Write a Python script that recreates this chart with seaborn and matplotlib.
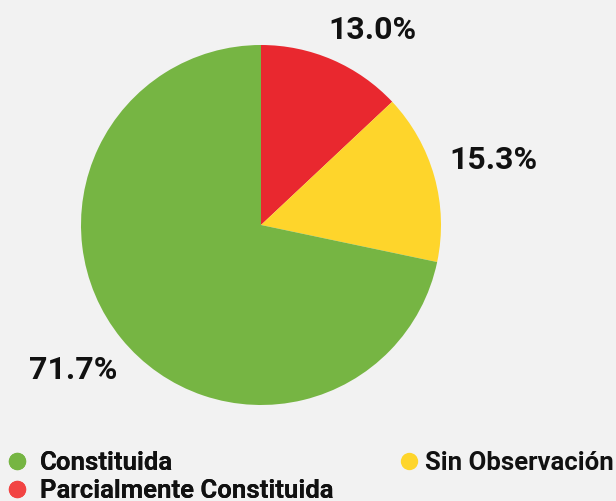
import matplotlib
matplotlib.use("Agg")
import matplotlib.pyplot as plt
import seaborn as sns
from matplotlib.lines import Line2D

categories = ["Constituida", "Parcialmente Constituida", "Sin Observación"]
values = [71.7, 13.0, 15.3]
pie_colors = ["#76b543", "#e9282f", "#fed52b"]
legend_colors = ["#76b543", "#f24443", "#fed52b"]

# Drawing order (clockwise from top): red, yellow, green
order = [1, 2, 0]

sns.set_style("white")
plt.rcParams["font.family"] = ["Roboto", "DejaVu Sans"]
plt.rcParams["font.weight"] = "bold"

bg = "#f2f2f2"
fig = plt.figure(figsize=(6.16, 5.01), dpi=100, facecolor=bg)
ax = fig.add_axes([81 / 616, 1 - 405 / 501, 360 / 616, 360 / 501])
ax.set_facecolor(bg)

wedges, texts, autotexts = ax.pie(
    [values[i] for i in order],
    colors=[pie_colors[i] for i in order],
    startangle=90,
    counterclock=False,
    autopct="%.1f%%",
    pctdistance=1.3,
    textprops=dict(fontsize=23, fontweight="bold", color="#111111"),
    wedgeprops=dict(linewidth=0),
)
# label placements (text only)
label_pos = {1: (0.617, 1.083), 2: (1.289, 0.361), 0: (-1.044, -0.806)}
for t, i in zip(autotexts, order):
    t.set_position(label_pos[i])
    t.set_ha("center")
    t.set_va("center")
ax.set_xlim(-1, 1)
ax.set_ylim(-1, 1)
ax.set_aspect("equal")
ax.axis("off")

def handle(c):
    return Line2D([], [], marker="o", linestyle="none", markersize=12.5,
                  markerfacecolor=c, markeredgewidth=0)

fs = 18.5
leg1 = fig.legend(
    [handle(legend_colors[0]), handle(legend_colors[1])],
    [categories[0], categories[1]],
    loc="upper left", bbox_to_anchor=(4 / 616, 1 - 451 / 501),
    frameon=False, borderpad=0, borderaxespad=0, handletextpad=0.4,
    labelspacing=0.15, handlelength=1.0, prop=dict(size=fs, weight="bold"),
)
fig.add_artist(leg1)
leg2 = fig.legend(
    [handle(legend_colors[2])],
    [categories[2]],
    loc="upper left", bbox_to_anchor=(396 / 616, 1 - 451 / 501),
    frameon=False, borderpad=0, borderaxespad=0, handletextpad=0.13,
    handlelength=1.0, prop=dict(size=fs, weight="bold"),
)
for leg in (leg1, leg2):
    for t in leg.get_texts():
        t.set_color("#111111")

fig.savefig("out.png", dpi=100, facecolor=bg)
